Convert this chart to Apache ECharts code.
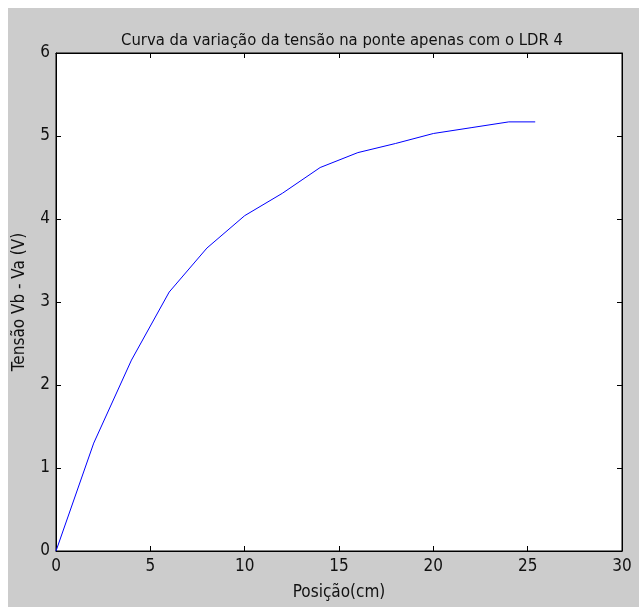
<!DOCTYPE html>
<html>
<head>
<meta charset="utf-8">
<script src="https://cdn.jsdelivr.net/npm/echarts@6/dist/echarts.min.js"></script>
<style>
  html, body { margin: 0; padding: 0; background: #ffffff; }
  #chart { width: 639px; height: 607px; }
</style>
</head>
<body>
<div id="chart"></div>
<script>
// Bridge voltage vs. position, LDR 4 only
const positions = [0, 2, 4, 6, 8, 10, 12, 14, 16, 18, 20, 22, 24, 25.4];
const voltages  = [0, 1.30, 2.30, 3.12, 3.65, 4.04, 4.31, 4.62, 4.80, 4.91, 5.03, 5.10, 5.17, 5.17];
const xTicks = [0, 5, 10, 15, 20, 25, 30];
const yTicks = [0, 1, 2, 3, 4, 5, 6];

const titleText = 'Curva da variação da tensão na ponte apenas com o LDR 4';
const xName = 'Posição(cm)';
const yName = 'Tensão Vb - Va (V)';

const FONT = '"Liberation Sans Narrow", "DejaVu Sans Condensed", "Liberation Sans", sans-serif';
const INK = '#111111';

const chart = echarts.init(document.getElementById('chart'), null, { renderer: 'canvas' });

const points = positions.map((p, i) => [p, voltages[i]]);

const baseAxis = (min, max, interval) => ({
  type: 'value',
  min: min,
  max: max,
  interval: interval,
  splitLine: { show: false },
  axisLine: { show: true, onZero: false, lineStyle: { color: '#000', width: 1 } },
  axisTick: { show: true, inside: true, length: 5, lineStyle: { color: '#000', width: 1 } }
});

chart.setOption({
  backgroundColor: '#ffffff',
  animation: false,
  graphic: [{
    type: 'rect',
    z: -100,
    silent: true,
    shape: { x: 8, y: 8, width: 631, height: 599 },
    style: { fill: '#cccccc' }
  }],
  title: {
    text: titleText,
    left: 337,
    top: 27,
    textAlign: 'center',
    textStyle: { fontFamily: FONT, fontSize: 16.5, fontWeight: 'normal', color: INK }
  },
  grid: {
    left: 56, top: 53, width: 566, height: 498,
    show: true,
    backgroundColor: '#ffffff',
    borderColor: '#000000',
    borderWidth: 1
  },
  xAxis: [
    Object.assign(baseAxis(xTicks[0], xTicks[xTicks.length - 1], 5), {
      position: 'bottom',
      name: xName,
      nameLocation: 'middle',
      nameGap: 33,
      nameTextStyle: { fontFamily: FONT, fontSize: 17, color: INK },
      axisLabel: { margin: 7, fontFamily: FONT, fontSize: 17, color: INK }
    }),
    Object.assign(baseAxis(xTicks[0], xTicks[xTicks.length - 1], 5), {
      position: 'top',
      axisLabel: { show: false }
    })
  ],
  yAxis: [
    Object.assign(baseAxis(yTicks[0], yTicks[yTicks.length - 1], 1), {
      position: 'left',
      name: yName,
      nameLocation: 'middle',
      nameGap: 28,
      nameTextStyle: { fontFamily: FONT, fontSize: 17, color: INK },
      axisLabel: { margin: 6, fontFamily: FONT, fontSize: 17, color: INK }
    }),
    Object.assign(baseAxis(yTicks[0], yTicks[yTicks.length - 1], 1), {
      position: 'right',
      axisLabel: { show: false }
    })
  ],
  series: [{
    type: 'line',
    data: points,
    xAxisIndex: 0,
    yAxisIndex: 0,
    showSymbol: false,
    symbol: 'none',
    lineStyle: { color: '#0000ff', width: 1 },
    clip: false
  }]
});
</script>
</body>
</html>
